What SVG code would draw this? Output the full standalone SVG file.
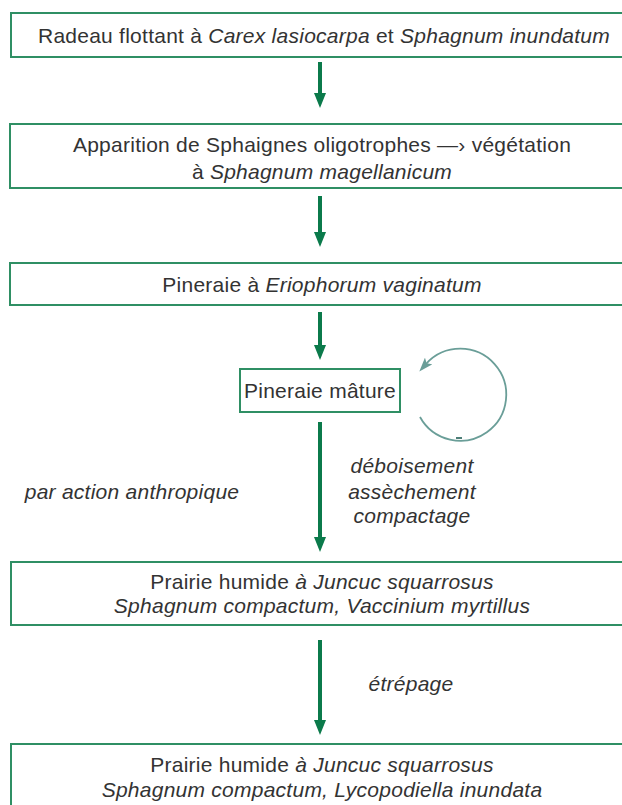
<svg xmlns="http://www.w3.org/2000/svg" width="622" height="805" viewBox="0 0 622 805">
<defs>
<style>
.box{fill:#fff;stroke:#2f8f64;stroke-width:2}
.t{font-family:"Liberation Sans",Arial,sans-serif;font-size:21px;letter-spacing:0.25px;fill:#333;text-anchor:middle}
.i{font-style:italic}
.arr{stroke:#0b7a4b;stroke-width:4;fill:none}
.loop{stroke:#6a9e98;stroke-width:1.8;fill:none}
</style>
<marker id="ah2" viewBox="0 0 14 10" refX="4" refY="5" markerWidth="14" markerHeight="10" markerUnits="userSpaceOnUse" orient="auto">
<path d="M0,0 L14,5 L0,10 L3,5 Z" fill="#6a9e98"/>
</marker>
</defs>
<rect width="622" height="805" fill="#fff"/>
<g id="connectors">
<line class="arr" x1="320" y1="62" x2="320" y2="94"/>
<path d="M314,93 L326,93 L320,108 Z" fill="#0b7a4b"/>
<line class="arr" x1="320" y1="196" x2="320" y2="233"/>
<path d="M314,232 L326,232 L320,247 Z" fill="#0b7a4b"/>
<line class="arr" x1="320" y1="312" x2="320" y2="346"/>
<path d="M314,345 L326,345 L320,360 Z" fill="#0b7a4b"/>
<line class="arr" x1="320" y1="422" x2="320" y2="538"/>
<path d="M314,537 L326,537 L320,552 Z" fill="#0b7a4b"/>
<line class="arr" x1="320" y1="640" x2="320" y2="721"/>
<path d="M314,720 L326,720 L320,735 Z" fill="#0b7a4b"/>
<path class="loop" d="M420,417 A46,46 0 1 0 426,364" marker-end="url(#ah2)"/>
<line x1="456" y1="438" x2="462" y2="438" stroke="#4d7f78" stroke-width="2"/>
</g>
<g id="n1">
<rect class="box" x="11" y="13" width="620" height="44"/>
<text class="t" x="324" y="43">Radeau flottant à <tspan class="i">Carex lasiocarpa</tspan> et <tspan class="i">Sphagnum inundatum</tspan></text>
</g>
<g id="n2">
<rect class="box" x="10" y="124" width="620" height="64"/>
<text class="t" x="322" y="152">Apparition de Sphaignes oligotrophes —› végétation</text>
<text class="t" x="322" y="179">à <tspan class="i">Sphagnum magellanicum</tspan></text>
</g>
<g id="n3">
<rect class="box" x="10" y="263" width="620" height="42"/>
<text class="t" x="322" y="292">Pineraie à <tspan class="i">Eriophorum vaginatum</tspan></text>
</g>
<g id="n4">
<rect class="box" x="240" y="369" width="160" height="43"/>
<text class="t" x="320" y="398">Pineraie mâture</text>
</g>
<g id="labels">
<text class="t i" x="412" y="473">déboisement</text>
<text class="t i" x="412" y="499">assèchement</text>
<text class="t i" x="412" y="523">compactage</text>
<text class="t i" x="132" y="499">par action anthropique</text>
<text class="t i" x="411" y="691">étrépage</text>
</g>
<g id="n5">
<rect class="box" x="11" y="562" width="620" height="63"/>
<text class="t" x="322" y="589">Prairie humide <tspan class="i">à Juncuc squarrosus</tspan></text>
<text class="t i" x="322" y="613">Sphagnum compactum, Vaccinium myrtillus</text>
</g>
<g id="n6">
<rect class="box" x="11" y="744" width="620" height="80"/>
<text class="t" x="322" y="772">Prairie humide <tspan class="i">à Juncuc squarrosus</tspan></text>
<text class="t i" x="322" y="797">Sphagnum compactum, Lycopodiella inundata</text>
</g>
</svg>
